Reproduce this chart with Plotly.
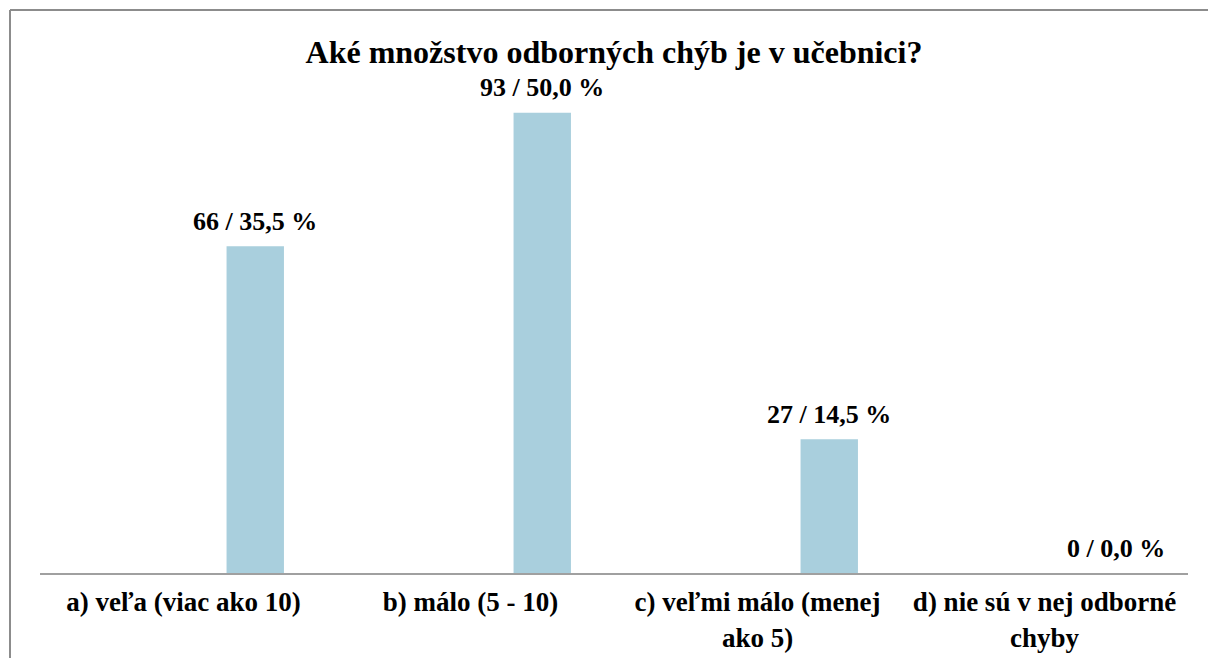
import plotly.graph_objects as go

categories = ["a) veľa (viac ako 10)", "b) málo (5 - 10)", "c) veľmi málo (menej ako 5)", "d) nie sú v nej odborné chyby"]
tick_labels = ["a) veľa (viac ako 10)", "b) málo (5 - 10)", "c) veľmi málo (menej<br>ako 5)", "d) nie sú v nej odborné<br>chyby"]
counts = [66, 93, 27, 0]
percents = ["35,5", "50,0", "14,5", "0,0"]
title = "Aké množstvo odborných chýb je v učebnici?"

labels = [f"{c} / {p} %" for c, p in zip(counts, percents)]
font_family = "Liberation Serif, Times New Roman, serif"

W, H = 1208, 658
ML, MR, MT, MB = 40, 20, 78, 85
cat_px = (W - ML - MR) / len(categories)

fig = go.Figure()
fig.add_trace(go.Bar(
    x=categories, y=counts,
    width=0.2, offset=0.15,
    marker=dict(color="#A9CFDD", line=dict(width=0)),
    hoverinfo="skip",
))

for cat, val, lab in zip(categories, counts, labels):
    fig.add_annotation(x=cat, y=val, xref="x", yref="y", text=f"<b>{lab}</b>",
                       showarrow=False, xanchor="center", yanchor="middle",
                       xshift=0.25 * cat_px, yshift=25,
                       font=dict(family=font_family, size=26, color="black"))

fig.update_layout(
    width=W, height=H,
    margin=dict(l=ML, r=MR, t=MT, b=MB),
    paper_bgcolor="white", plot_bgcolor="white",
    showlegend=False,
    title=dict(text=f"<b>{title}</b>", x=0.5, xref="paper", xanchor="center",
               y=1 - 52/H, yanchor="middle",
               font=dict(family=font_family, size=32, color="black")),
    xaxis=dict(type="category", tickmode="array", tickvals=categories, ticktext=tick_labels,
               range=[-0.5, 3.5], showgrid=False, showline=True, linecolor="#A0A0A0", linewidth=2,
               ticks="", ticklabelstandoff=4, automargin=False,
               tickfont=dict(family=font_family, size=27, color="black", weight="bold")),
    yaxis=dict(range=[0, 100], visible=False, showgrid=False, zeroline=False, automargin=False),
    shapes=[
        dict(type="line", xref="paper", yref="paper", x0=(10-ML)/(W-ML-MR), x1=(W+2-ML)/(W-ML-MR),
             y0=(H-MB-10)/(H-MT-MB), y1=(H-MB-10)/(H-MT-MB), line=dict(color="#8C8C8C", width=2)),
        dict(type="line", xref="paper", yref="paper", x0=(10-ML)/(W-ML-MR), x1=(10-ML)/(W-ML-MR),
             y0=(H-MB-10)/(H-MT-MB), y1=-(MB+2)/(H-MT-MB), line=dict(color="#8C8C8C", width=2)),
    ],
)

fig.write_html("out.html", config={"displayModeBar": False},
               post_script="document.body.style.margin='0';document.body.style.overflow='hidden';")
